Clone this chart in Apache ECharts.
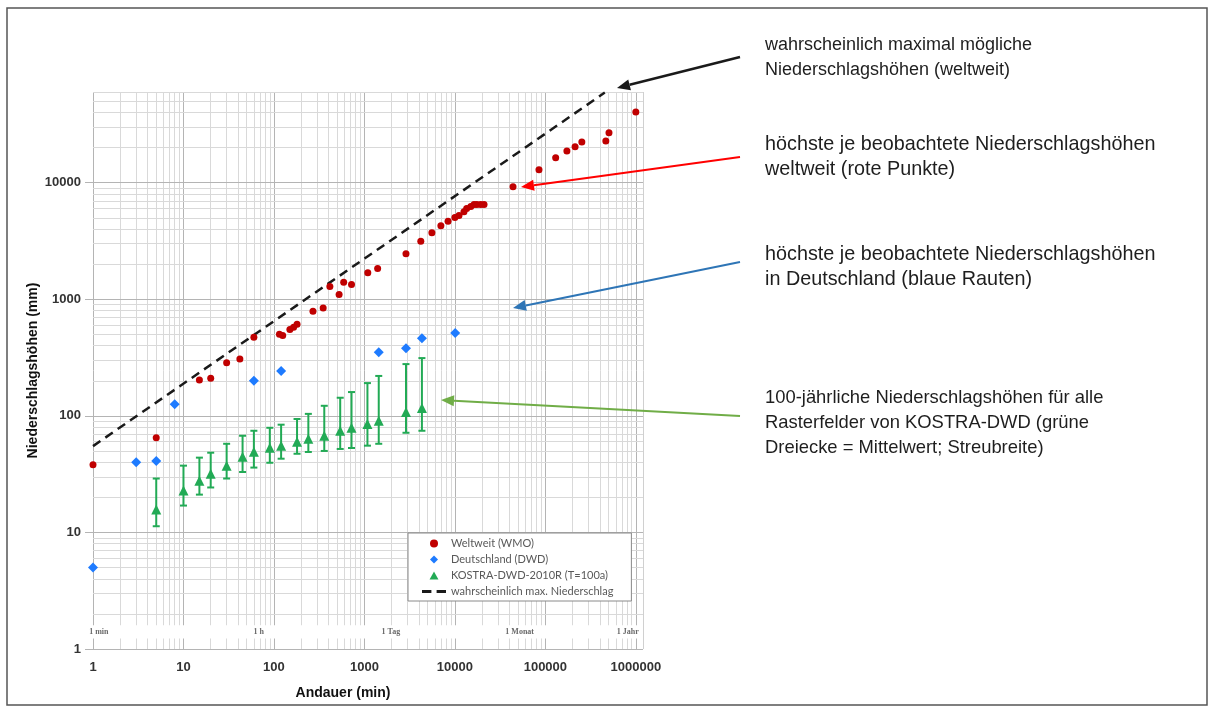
<!DOCTYPE html>
<html>
<head>
<meta charset="utf-8">
<script src="https://cdn.jsdelivr.net/npm/echarts@6/dist/echarts.min.js"></script>
<style>
html,body{margin:0;padding:0;background:#fff;}
#chart{width:1211px;height:708px;}
</style>
</head>
<body>
<div id="chart"></div>
<script>
// Weltweit (WMO) - höchste beobachtete Niederschlagshöhen
var wmoX = [1, 5, 15, 20, 30, 42, 60, 115, 125, 150, 165, 180, 270, 350, 415, 525, 590, 720, 1090, 1400, 2880, 4200, 5570, 7000, 8400, 10000, 11100, 12600, 13500, 15000, 16300, 17500, 19300, 21000, 43900, 85000, 130000, 173000, 213000, 253000, 466000, 505000, 1000000];
var wmoY = [38, 65, 203, 210, 285, 307, 473, 500, 490, 550, 575, 610, 790, 840, 1290, 1100, 1400, 1340, 1690, 1840, 2460, 3140, 3730, 4270, 4660, 5040, 5230, 5640, 6000, 6240, 6490, 6500, 6500, 6500, 9250, 12900, 16400, 18700, 20300, 22300, 22800, 26800, 40500];
// Deutschland (DWD)
var dwdX = [1, 3, 5, 8, 60, 120, 1440, 2880, 4320, 10080];
var dwdY = [5, 40, 41, 126, 200, 243, 352, 380, 464, 514];
// KOSTRA-DWD-2010R (T=100a): Mittelwert und Streubreite
var kostraX = [5, 10, 15, 20, 30, 45, 60, 90, 120, 180, 240, 360, 540, 720, 1080, 1440, 2880, 4320];
var kostraMean = [15.7, 22.9, 27.8, 31.9, 37.4, 44.6, 49.2, 53.2, 55.4, 60, 63.6, 67.5, 74.5, 79, 85, 90.6, 108, 117];
var kostraLow = [11.3, 17, 21.1, 24.3, 29, 33, 36, 39.6, 42.9, 47.3, 49, 50, 52, 53, 55.5, 57.6, 71.6, 74.5];
var kostraHigh = [29, 37.4, 43.8, 48.3, 57.6, 67.5, 74.5, 79, 84, 94, 104, 122, 143, 160, 191, 220, 278, 313];
// wahrscheinlich max. Niederschlag
var pmpX = [1, 454000];
var pmpY = [55, 59300];
// Zeitmarken im Diagramm
var timeText = ['1 min', '1 h', '1 Tag', '1 Monat', '1 Jahr'];
var timeX = [1.16, 68, 1960, 52000, 815000];
var timeY = [1.4, 1.4, 1.4, 1.4, 1.4];
var decades = [1, 10, 100, 1000, 10000, 100000, 1000000];

var xMin = 1, xMax = 1200000, yMin = 1, yMax = 60000;

function zip(a, b) {
  var out = [];
  for (var i = 0; i < a.length; i++) out.push([a[i], b[i]]);
  return out;
}

function isPow10(v) {
  var l = Math.log(v) / Math.LN10;
  return Math.abs(l - Math.round(l)) < 1e-6;
}

// Gitternetz (1..9 je Dekade)
function gridLines() {
  var lines = [];
  var k, m, v;
  for (k = 0; k <= 6; k++) {
    for (m = 1; m <= 9; m++) {
      v = m * Math.pow(10, k);
      if (v > xMax) break;
      lines.push({xAxis: v, lineStyle: {color: m == 1 ? '#b4b4b4' : '#d9d9d9', width: 1, type: 'solid'}});
    }
  }
  lines.push({xAxis: xMax, lineStyle: {color: '#d0d0d0', width: 1, type: 'solid'}});
  for (k = 0; k <= 4; k++) {
    for (m = 1; m <= 9; m++) {
      v = m * Math.pow(10, k);
      if (v > yMax) break;
      lines.push({yAxis: v, lineStyle: {color: m == 1 ? '#b4b4b4' : '#d9d9d9', width: 1, type: 'solid'}});
    }
  }
  return lines;
}

function arrow(x1, y1, x2, y2, color, w) {
  var a = Math.atan2(y2 - y1, x2 - x1);
  var len = 13, half = 5.5;
  var bx = x2 - Math.cos(a) * len, by = y2 - Math.sin(a) * len;
  var px = -Math.sin(a) * half, py = Math.cos(a) * half;
  return {
    type: 'group', z: 20,
    children: [
      {type: 'line', z: 20, shape: {x1: x1, y1: y1, x2: bx, y2: by}, style: {stroke: color, lineWidth: w}},
      {type: 'polygon', z: 20, shape: {points: [[x2, y2], [bx + px, by + py], [bx - px, by - py]]}, style: {fill: color}}
    ]
  };
}

function note(x, y, txt, size) {
  return {
    type: 'text', x: x, y: y, z: 20,
    style: {text: txt, fill: '#1e1e1e', font: size + 'px "Liberation Sans", Arial, sans-serif', lineHeight: 25, verticalAlign: 'top'}
  };
}

var chart = echarts.init(document.getElementById('chart'), null, {renderer: 'canvas'});

var option = {
  backgroundColor: '#fff',
  animation: false,
  grid: {left: 93, right: 568, top: 92, bottom: 59},
  legend: {
    data: [
      {name: 'Weltweit (WMO)', icon: 'circle'},
      {name: 'Deutschland (DWD)', icon: 'path://M5,0L10,5L5,10L0,5Z'},
      {name: 'KOSTRA-DWD-2010R (T=100a)', icon: 'path://M5,0L10,9L0,9Z'},
      {name: 'wahrscheinlich max. Niederschlag', icon: 'path://M0,0H9V3H0Z M14,0H23V3H14Z'}
    ],
    orient: 'vertical',
    left: 408, top: 533, z: 10,
    itemWidth: 24, itemHeight: 8, itemGap: 5,
    symbolKeepAspect: true,
    padding: [5, 18, 4, 14],
    backgroundColor: '#fff',
    borderColor: '#8a8a8a', borderWidth: 1,
    textStyle: {fontSize: 11, color: '#595959', fontFamily: 'Lato', lineHeight: 11}
  },
  xAxis: {
    type: 'log', logBase: 10, min: xMin, max: xMax,
    name: 'Andauer (min)', nameLocation: 'middle', nameGap: 37,
    nameTextStyle: {fontSize: 14, fontWeight: 'bold', color: '#111', fontFamily: 'Liberation Sans', padding: [0, 50, 0, 0]},
    splitLine: {show: false}, axisLine: {show: false}, axisTick: {show: false},
    axisLabel: {
      margin: 12, fontSize: 13, fontWeight: 'bold', color: '#333', fontFamily: 'Liberation Sans',
      formatter: function (v) { return isPow10(v) ? String(Math.round(v)) : ''; }
    }
  },
  yAxis: {
    type: 'log', logBase: 10, min: yMin, max: yMax,
    name: 'Niederschlagshöhen (mm)', nameLocation: 'middle', nameGap: 53,
    nameTextStyle: {fontSize: 14, fontWeight: 'bold', color: '#111', fontFamily: 'Liberation Sans'},
    splitLine: {show: false}, axisLine: {show: false},
    axisTick: {show: true, length: 8, customValues: decades.slice(0, 5), lineStyle: {color: '#b4b4b4'}},
    axisLabel: {
      margin: 12, fontSize: 13, fontWeight: 'bold', color: '#333', fontFamily: 'Liberation Sans',
      formatter: function (v) { return isPow10(v) ? String(Math.round(v)) : ''; }
    }
  },
  series: [
    {
      name: 'grid', type: 'scatter', data: [], silent: true, z: 1,
      markLine: {z: 1, silent: true, symbol: 'none', label: {show: false}, animation: false, data: gridLines()}
    },
    {
      name: 'band', type: 'scatter', data: [], silent: true, z: 2,
      markArea: {z: 2, silent: true, itemStyle: {color: '#fff'}, data: [[{yAxis: 1.23}, {yAxis: 1.6}]]}
    },
    {
      name: 'zeit', type: 'scatter', z: 3, silent: true, symbolSize: 0,
      data: zip(timeX, timeY),
      label: {
        show: true, position: 'inside', fontSize: 8, fontWeight: 'bold', color: '#444', fontFamily: 'Liberation Serif',
        formatter: function (p) { return timeText[p.dataIndex]; }
      }
    },
    {
      name: 'wahrscheinlich max. Niederschlag', type: 'line', z: 4,
      data: zip(pmpX, pmpY), symbol: 'none', showSymbol: false,
      itemStyle: {color: '#1a1a1a'},
      lineStyle: {color: '#1a1a1a', width: 2.5, type: [9, 6]}
    },
    {
      name: 'Streubreite', type: 'custom', z: 5,
      data: kostraX.map(function (x, i) { return [x, kostraLow[i], kostraHigh[i]]; }),
      renderItem: function (params, api) {
        var x = api.value(0);
        var lo = api.coord([x, api.value(1)]);
        var hi = api.coord([x, api.value(2)]);
        var c = 3.5;
        var st = {stroke: '#22aa55', lineWidth: 2};
        return {
          type: 'group',
          children: [
            {type: 'line', shape: {x1: lo[0], y1: lo[1], x2: hi[0], y2: hi[1]}, style: st},
            {type: 'line', shape: {x1: lo[0] - c, y1: lo[1], x2: lo[0] + c, y2: lo[1]}, style: st},
            {type: 'line', shape: {x1: hi[0] - c, y1: hi[1], x2: hi[0] + c, y2: hi[1]}, style: st}
          ]
        };
      }
    },
    {
      name: 'KOSTRA-DWD-2010R (T=100a)', type: 'scatter', z: 6,
      symbol: 'triangle', symbolSize: 10,
      itemStyle: {color: '#22aa55', opacity: 1},
      data: zip(kostraX, kostraMean)
    },
    {
      name: 'Deutschland (DWD)', type: 'scatter', z: 6,
      symbol: 'diamond', symbolSize: 10,
      itemStyle: {color: '#1e7bff', opacity: 1},
      data: zip(dwdX, dwdY)
    },
    {
      name: 'Weltweit (WMO)', type: 'scatter', z: 6,
      symbol: 'circle', symbolSize: 7,
      itemStyle: {color: '#c00000', opacity: 1},
      data: zip(wmoX, wmoY)
    }
  ],
  graphic: [
    {type: 'rect', shape: {x: 7, y: 8, width: 1200, height: 697}, style: {fill: null, stroke: '#555', lineWidth: 1.5}, z: 0},
    arrow(740, 57, 617, 88, '#1a1a1a', 2.5),
    arrow(740, 157, 521, 187, '#ff0000', 2),
    arrow(740, 262, 513, 308, '#2e75b6', 2),
    arrow(740, 416, 441, 400, '#70ad47', 2),
    note(765, 33, 'wahrscheinlich maximal mögliche\nNiederschlagshöhen (weltweit)', 18),
    note(765, 132, 'höchste je beobachtete Niederschlagshöhen\nweltweit (rote Punkte)', 19.8),
    note(765, 242, 'höchste je beobachtete Niederschlagshöhen\nin Deutschland (blaue Rauten)', 19.8),
    note(765, 385, '100-jährliche Niederschlagshöhen für alle\nRasterfelder von KOSTRA-DWD (grüne\nDreiecke = Mittelwert; Streubreite)', 18.4)
  ]
};

chart.setOption(option);
</script>
</body>
</html>
